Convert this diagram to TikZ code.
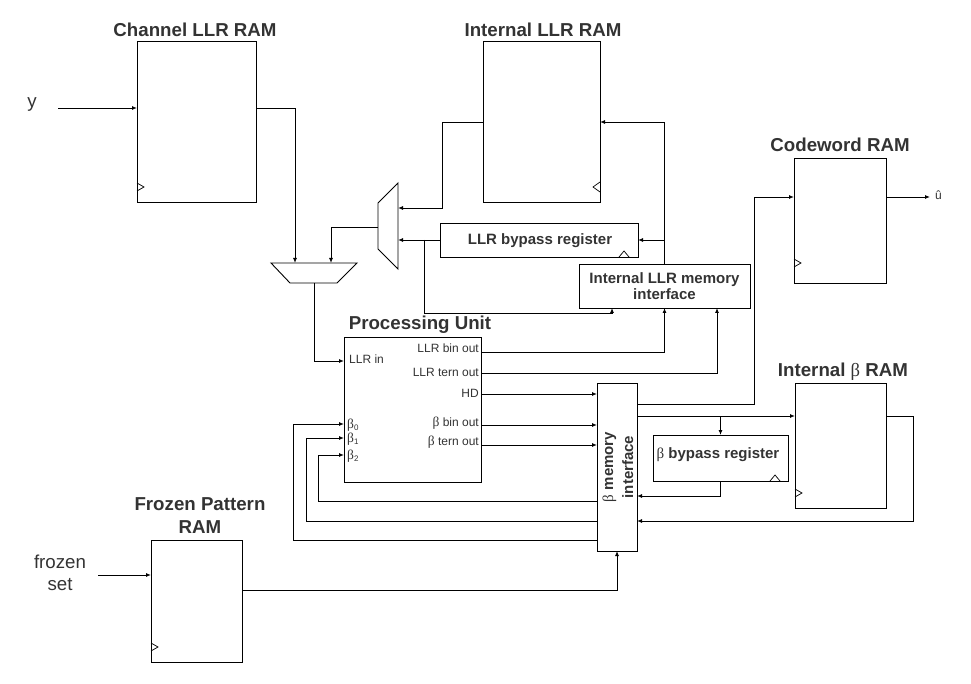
\documentclass[tikz,border=0pt]{standalone}
\usepackage{fontspec}
\setmainfont{Liberation Sans}
\newfontfamily\grk{Liberation Serif}
\newcommand{\bgr}{{\grk\fontsize{13.5}{14}\selectfont β}}
\usetikzlibrary{arrows.meta}
\begin{document}
\begin{tikzpicture}[x=1pt,y=-1pt,
 box/.style={draw, line width=0.9pt, inner sep=0pt, outer sep=0pt},
 ttl/.style={font=\fontsize{18.7}{22}\selectfont\bfseries, text=black!80, align=center, inner sep=0pt},
 lbl/.style={font=\fontsize{15}{17}\selectfont\bfseries, text=black!80, align=center},
 port/.style={font=\fontsize{12}{14}\selectfont, text=black!80, inner sep=1pt},
 io/.style={font=\fontsize{18.7}{22}\selectfont, text=black!80, align=center},
 wire/.style={line width=0.9pt},
 arr/.style={wire, -{Latex[length=5pt,width=4pt]}},
 clk/.style={line width=0.7pt}
]
\useasboundingbox (0,0) rectangle (971,684);

% ---------- boxes ----------
\node[box, minimum width=119pt, minimum height=161pt] (chram) at (196.5,121.5) {};
\node[box, minimum width=117pt, minimum height=161pt] (intram) at (541.5,121.5) {};
\node[box, minimum width=92pt, minimum height=125pt] (cwram) at (840,220.5) {};
\node[box, minimum width=91pt, minimum height=125pt] (bram) at (840.5,445.5) {};
\node[box, minimum width=91pt, minimum height=122pt] (frram) at (196.5,601) {};
\node[box, minimum width=137pt, minimum height=145pt] (pu) at (412.5,409.5) {};
\node[box, minimum width=40pt, minimum height=168pt] (bmi) at (617,467) {};
\node[box, minimum width=198pt, minimum height=34pt] (llrbyp) at (539,240) {};
\node[box, minimum width=171pt, minimum height=44pt] (llrmi) at (664.5,286) {};
\node[box, minimum width=135pt, minimum height=46pt] (bbyp) at (720.5,458) {};

% ---------- box texts ----------
\node[lbl] (tbyp) at (540,241) {LLR bypass register};
\node[lbl, font=\fontsize{15}{16.5}\selectfont\bfseries] (tlmi) at (664.5,286) {Internal LLR memory\\interface};
\node[lbl] (tbbyp) at (718,455) {{\mdseries\grk β} bypass register};
\node[lbl, rotate=90, font=\fontsize{15}{20}\selectfont\bfseries] (tbmi) at (618,467) {{\mdseries\grk β} memory\\interface};

% ---------- titles ----------
\node[ttl] (t1) at (195,30) {Channel LLR RAM};
\node[ttl] (t2) at (543,30) {Internal LLR RAM};
\node[ttl] (t3) at (840,145) {Codeword RAM};
\node[ttl] (t4) at (843,372) {Internal {\mdseries\grk β} RAM};
\node[ttl] (t5) at (420,325) {Processing Unit};
\node[ttl, font=\fontsize{18.7}{23}\selectfont\bfseries] (t6) at (200,516) {Frozen Pattern\\RAM};

% ---------- io labels ----------
\node[io] (ylab) at (32,105) {y};
\node[io, font=\fontsize{18.7}{21.5}\selectfont] (frlab) at (60,573) {frozen\\set};
\node[port, anchor=west] (uhat) at (934,195) {û};

% ---------- PU ports ----------
\node[port, anchor=west] (pllrin) at (348,359) {LLR in};
\node[port, anchor=west] (pb0) at (346,425) {\bgr\textsubscript{0}};
\node[port, anchor=west] (pb1) at (346,439) {\bgr\textsubscript{1}};
\node[port, anchor=west] (pb2) at (346,456) {\bgr\textsubscript{2}};
\node[port, anchor=east] (pbin) at (480,348) {LLR bin out};
\node[port, anchor=east] (ptern) at (480,372) {LLR tern out};
\node[port, anchor=east] (phd) at (480,393) {HD};
\node[port, anchor=east] (pbb) at (480,423) {\bgr\ bin out};
\node[port, anchor=east] (pbt) at (480,442) {\bgr\ tern out};

% ---------- muxes ----------
\draw[wire] (398,183) -- (398,269) -- (378,249) -- (378,203) -- cycle;
\draw[wire] (271,263) -- (357,263) -- (337,283) -- (290,283) -- cycle;
\coordinate (m1a) at (398,208);
\coordinate (m1b) at (398,240);
\coordinate (m1o) at (378,227);
\coordinate (m2a) at (295,263);
\coordinate (m2b) at (331,263);
\coordinate (m2o) at (314,283);

% ---------- clock triangles ----------
\draw[clk] (137,183) -- (144,187) -- (137,191);
\draw[clk] (600,182) -- (593,187) -- (600,192);
\draw[clk] (794,259) -- (801,263) -- (794,267);
\draw[clk] (795,489) -- (802,493) -- (795,497);
\draw[clk] (151,643) -- (158,647) -- (151,651);
\draw[clk] (619,257) -- (624,251) -- (629,257);
\draw[clk] (770,481) -- (775,475) -- (780,481);

% ---------- connectors ----------
\coordinate (yin) at (58,108);
\draw[arr] (yin) -- (yin -| chram.west);
\draw[arr] (chram.east |- 0,108) -- (295,108) -- (m2a);
\draw[arr] (intram.west |- 0,122) -- (442,122) -- (442,208) -- (m1a);
\draw[arr] (llrbyp.west) -- (m1b);
\draw[arr] (424,240) -- (424,313) -- (612,313) -- (612,308);
\draw[arr] (m1o) -- (331,227) -- (m2b);
\draw[arr] (m2o) -- (314,361) -- (pu.west |- 0,361);
\draw[arr] (llrmi.north) -- (664.5,122) -- (intram.east |- 0,122);
\draw[arr] (664.5,240) -- (llrbyp.east);
\draw[arr] (pu.east |- 0,352) -- (664.5,352) -- (llrmi.south);
\draw[arr] (pu.east |- 0,373) -- (717,373) -- (717,308);
\draw[arr] (pu.east |- 0,394) -- (bmi.west |- 0,394);
\draw[arr] (pu.east |- 0,425) -- (bmi.west |- 0,425);
\draw[arr] (pu.east |- 0,445) -- (bmi.west |- 0,445);
\draw[arr] (bmi.east |- 0,404) -- (754,404) -- (754,197) -- (cwram.west |- 0,197);
\draw[arr] (bmi.east |- 0,416) -- (bram.west |- 0,416);
\draw[arr] (720.5,416) -- (bbyp.north);
\draw[arr] (bbyp.south) -- (720.5,496) -- (bmi.east |- 0,496);
\draw[arr] (bram.east |- 0,416) -- (913,416) -- (913,521) -- (bmi.east |- 0,521);
\draw[arr] (cwram.east |- 0,197) -- (930,197);
\draw[arr] (bmi.west |- 0,501) -- (318,501) -- (318,455) -- (pu.west |- 0,455);
\draw[arr] (bmi.west |- 0,521) -- (306,521) -- (306,438) -- (pu.west |- 0,438);
\draw[arr] (bmi.west |- 0,540) -- (293,540) -- (293,424) -- (pu.west |- 0,424);
\coordinate (frin) at (98,575);
\draw[arr] (frin) -- (frin -| frram.west);
\draw[arr] (frram.east |- 0,590) -- (617,590) -- (bmi.south);
\end{tikzpicture}
\end{document}
